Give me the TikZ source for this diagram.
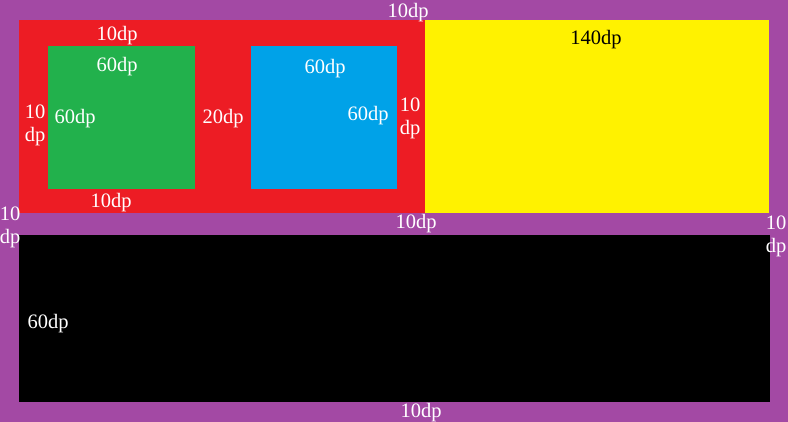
\documentclass[tikz,border=0pt]{standalone}
\usepackage{fontspec}
\setmainfont{Liberation Serif}
\definecolor{paintpurple}{HTML}{A349A4}
\definecolor{paintred}{HTML}{ED1C24}
\definecolor{paintgreen}{HTML}{22B14C}
\definecolor{paintblue}{HTML}{00A2E8}
\definecolor{paintyellow}{HTML}{FFF200}
\tikzset{
  dim/.style     = {white, font=\fontsize{20.5}{23}\selectfont, inner sep=0pt, align=center},
  dimdark/.style = {dim, black},
}
\begin{document}
\begin{tikzpicture}[x=1pt, y=-1pt]

% ── Root: purple frame, 10dp padding all round ───────────────
\fill[paintpurple] (0,0) rectangle (788,422);
\useasboundingbox (0,0) rectangle (788,422);

% ── Top row: red box + yellow filler ─────────────────────────
\fill[paintred]    (19,20)  rectangle (425,213);
\fill[paintyellow] (425,20) rectangle (769,213);

% two 60dp squares inside the red box, 20dp apart
\foreach \xl/\xr/\col in {48/195/paintgreen, 251/397/paintblue}{
  \fill[\col] (\xl,46) rectangle (\xr,189);
}

% ── Bottom row: black bar ────────────────────────────────────
\fill[black] (19,235) rectangle (770,402);

% ── Labels ───────────────────────────────────────────────────
\node[dim] (padtop)    at (408,13)  {10dp};
\node[dim] (redtop)    at (117,36)  {10dp};
\node[dim] (greentop)  at (117,67)  {60dp};
\node[dim] (redleft)   at (35,125)  {10\\dp};
\node[dim] (greenside) at (75,119)  {60dp};
\node[dim] (gap)       at (223,119) {20dp};
\node[dim] (bluetop)   at (325,69)  {60dp};
\node[dim] (blueside)  at (368,116) {60dp};
\node[dim] (redright)  at (410,118) {10\\dp};
\node[dim] (redbottom) at (111,203) {10dp};
\node[dimdark] (yellowh) at (596,40) {140dp};

\node[dim] (padleft)   at (10,227)  {10\\dp};
\node[dim] (rowgap)    at (416,224) {10dp};
\node[dim] (padright)  at (776,236) {10\\dp};
\node[dim] (blackh)    at (48,324)  {60dp};
\node[dim] (padbottom) at (421,413) {10dp};

\end{tikzpicture}
\end{document}
